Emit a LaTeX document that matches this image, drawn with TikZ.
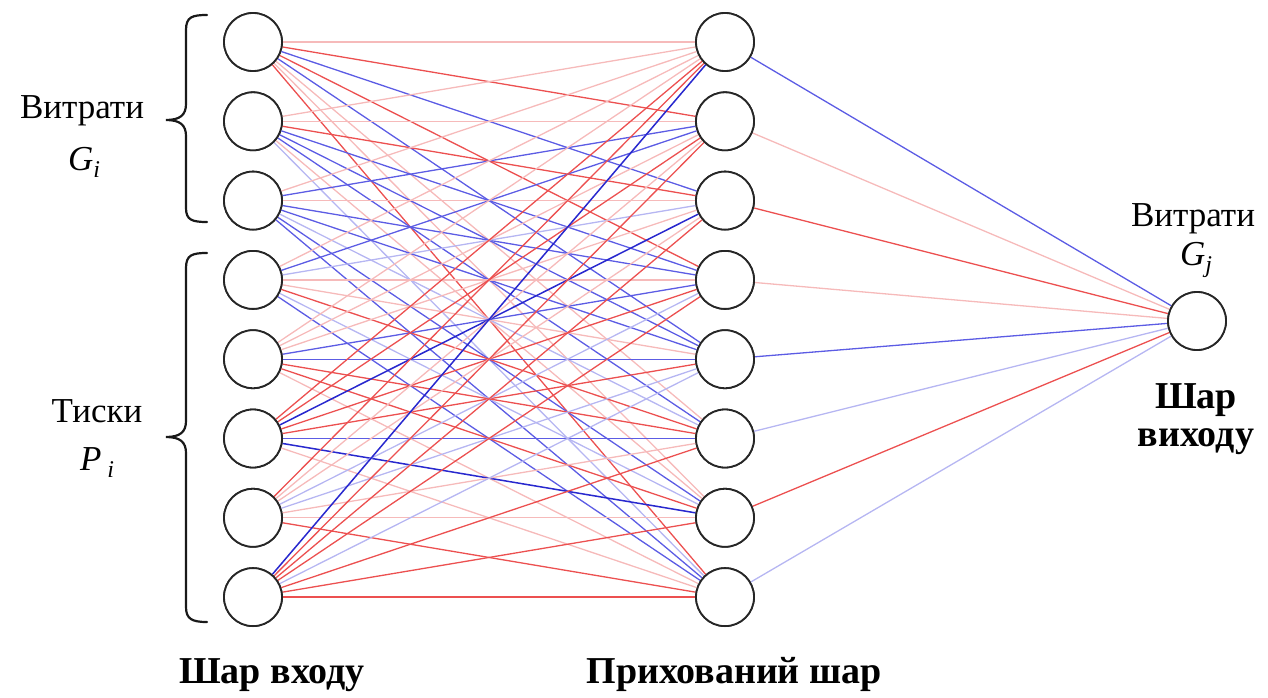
\documentclass[tikz,border=0pt]{standalone}
\usepackage{fontspec}
\setmainfont{Liberation Serif}
\definecolor{cR1}{RGB}{246,186,186}
\definecolor{cR2}{RGB}{236,80,80}
\definecolor{cR3}{RGB}{226,36,36}
\definecolor{cB1}{RGB}{182,182,242}
\definecolor{cB2}{RGB}{92,92,228}
\definecolor{cB3}{RGB}{40,40,206}
\tikzset{
  neuron/.style={circle, draw=black!85, line width=1.8pt, fill=white, minimum size=58pt, inner sep=0pt},
  R1/.style={draw=cR1, line width=1.3pt},
  R2/.style={draw=cR2, line width=1.3pt},
  R3/.style={draw=cR3, line width=1.4pt},
  B1/.style={draw=cB1, line width=1.3pt},
  B2/.style={draw=cB2, line width=1.3pt},
  B3/.style={draw=cB3, line width=1.5pt},
  lbl/.style={anchor=base, inner sep=0pt, font=\fontsize{35}{40}\selectfont},
  blbl/.style={anchor=base, inner sep=0pt, font=\fontsize{38}{42}\selectfont\bfseries},
  bracepath/.style={line width=2.2pt, line cap=round, black!90}
}
\begin{document}
\begin{tikzpicture}[x=1pt,y=-1pt]
\useasboundingbox (0,0) rectangle (1268,698);
% nodes
\foreach \k in {1,...,8} {
  \node[neuron] (i\k) at (253,{42+79.3*(\k-1)}) {};
  \node[neuron] (h\k) at (725,{42+79.3*(\k-1)}) {};
}
\node[neuron] (o) at (1197,321) {};
% input -> hidden connections
\foreach \s [count=\j] in {R1,R2,B2,R2,B2,R1,R1,R2} \draw[\s] (i1) -- (h\j);
\foreach \s [count=\j] in {R1,R1,R2,B2,B2,B2,R1,B1} \draw[\s] (i2) -- (h\j);
\foreach \s [count=\j] in {R1,B2,R1,B2,B2,B1,B2,B2} \draw[\s] (i3) -- (h\j);
\foreach \s [count=\j] in {R1,B2,B1,R1,R1,R2,B1,B2} \draw[\s] (i4) -- (h\j);
\foreach \s [count=\j] in {R1,R1,R1,B2,B2,R2,R2,R1} \draw[\s] (i5) -- (h\j);
\foreach \s [count=\j] in {R2,R2,B3,R2,R2,B2,B3,R1} \draw[\s] (i6) -- (h\j);
\foreach \s [count=\j] in {R2,R1,R1,B1,B1,R1,R1,R2} \draw[\s] (i7) -- (h\j);
\foreach \s [count=\j] in {B3,R2,R2,R2,B1,R2,R2,R2} \draw[\s] (i8) -- (h\j);
% hidden -> output
\foreach \s [count=\j] in {B2,R1,R2,R1,B2,B1,R2,B1} \draw[\s] (h\j) -- (o);
% redraw nodes on top
\foreach \k in {1,...,8} {
  \node[neuron] at (i\k) {};
  \node[neuron] at (h\k) {};
}
\node[neuron] at (o) {};
% braces
\draw[bracepath] (207,15) .. controls (192,15) and (186,17) .. (186,30) -- (186,104)
  .. controls (186,115) and (180,120) .. (166,120)
  .. controls (180,120) and (186,125) .. (186,136) -- (186,208)
  .. controls (186,220) and (192,222) .. (207,222);
\draw[bracepath] (207,253) .. controls (192,253) and (186,255) .. (186,268) -- (186,421)
  .. controls (186,432) and (180,437) .. (166,437)
  .. controls (180,437) and (186,442) .. (186,453) -- (186,607)
  .. controls (186,619) and (192,622) .. (207,622);
% labels
\node[lbl] (tg) at (82,118) {Витрати};
\node[lbl] (tgi) at (84,170) {\itshape G\raisebox{-0.22em}{\fontsize{24}{24}\selectfont i}};
\node[lbl] (tp) at (97,422) {Тиски};
\node[lbl] (tpi) at (97,470) {\itshape P\,\raisebox{-0.22em}{\fontsize{24}{24}\selectfont i}};
\node[lbl] (tgo) at (1193,226) {Витрати};
\node[lbl] (tgj) at (1196,265) {\itshape G\raisebox{-0.22em}{\fontsize{24}{24}\selectfont j}};
\node[blbl] (so1) at (1196,408) {Шар};
\node[blbl] (so2) at (1196,446) {виходу};
\node[blbl] (sin) at (272,683) {Шар входу};
\node[blbl] (shid) at (734,683) {Прихований шар};
\end{tikzpicture}
\end{document}
